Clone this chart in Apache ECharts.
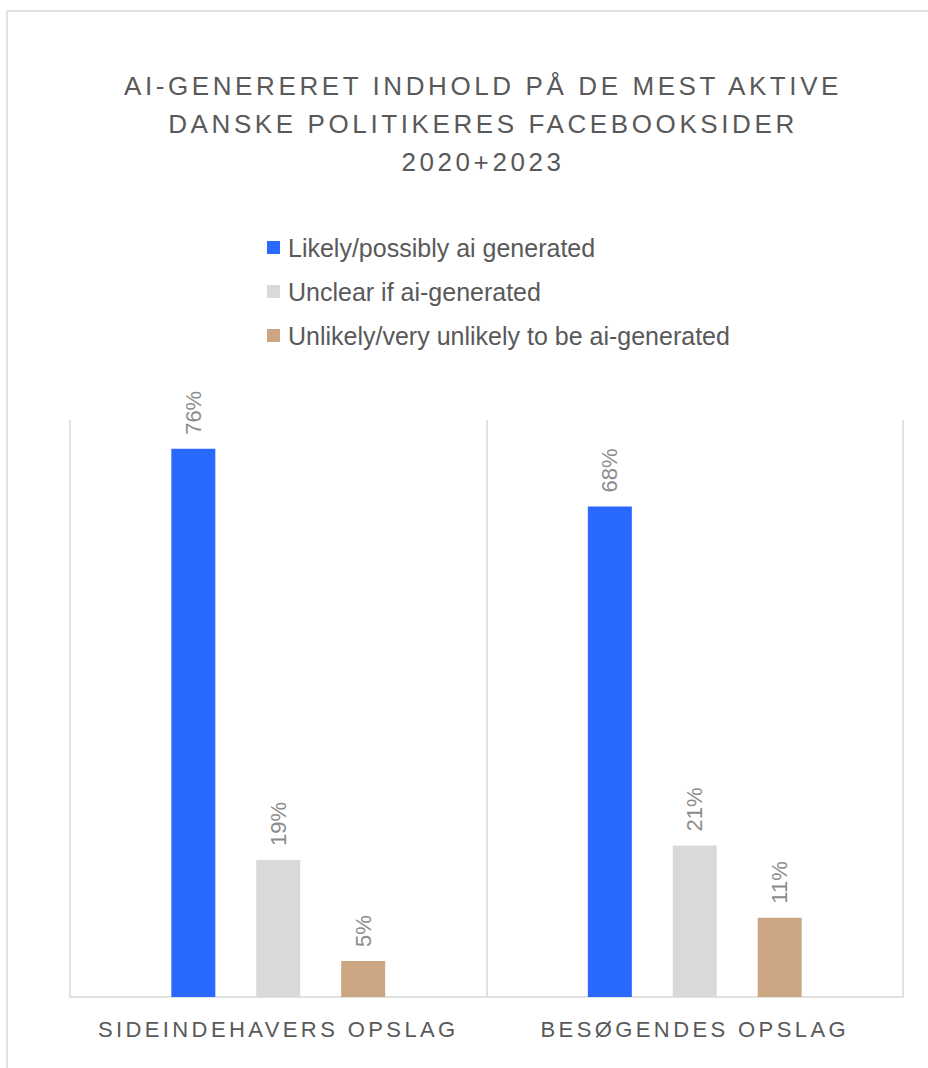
<!DOCTYPE html>
<html>
<head>
<meta charset="utf-8">
<script src="https://cdn.jsdelivr.net/npm/echarts@6/dist/echarts.min.js"></script>
<style>html,body{margin:0;padding:0;background:#fff;}#c{width:928px;height:1068px;}</style>
</head>
<body>
<div id="c"></div>
<script>
const titleText = 'AI-GENERERET INDHOLD PÅ DE MEST AKTIVE\nDANSKE POLITIKERES FACEBOOKSIDER\n2020+2023';
const categories = ['SIDEINDEHAVERS OPSLAG', 'BESØGENDES OPSLAG'];
const seriesNames = ['Likely/possibly ai generated', 'Unclear if ai-generated', 'Unlikely/very unlikely to be ai-generated'];
const likelyValues = [76, 68];
const unclearValues = [19, 21];
const unlikelyValues = [5, 11];
const colors = ['#2A69FF', '#D9D9D9', '#CCA683'];

const chart = echarts.init(document.getElementById('c'), null, { renderer: 'svg' });
const labelCfg = {
  show: true, position: 'top', rotate: 90, align: 'left', verticalAlign: 'middle',
  distance: 14, color: '#8C8C8C', fontSize: 22, fontFamily: 'Liberation Sans',
  formatter: p => p.value + '%'
};
const mk = (name, data, i) => ({
  name, type: 'bar', data, barWidth: 44, barGap: '93%',
  itemStyle: { color: colors[i] }, label: labelCfg
});
chart.setOption({
  animation: false,
  graphic: [{ type: 'rect', shape: { x: 7, y: 11, width: 1000, height: 1100 },
    style: { fill: 'none', stroke: '#D9D9D9', lineWidth: 1.5 }, silent: true }],
  title: {
    text: titleText, left: 483, top: 67, textAlign: 'center', padding: 0,
    textStyle: { color: '#595959', fontSize: 26, fontWeight: 'normal', lineHeight: 38, fontFamily: 'Liberation Sans' }
  },
  legend: {
    orient: 'vertical', left: 267, top: 235, padding: 0, itemGap: 19,
    itemWidth: 13, itemHeight: 13, icon: 'rect',
    textStyle: { color: '#595959', fontSize: 25, lineHeight: 22, fontFamily: 'Liberation Sans', padding: [0,0,0,3] },
    data: seriesNames
  },
  grid: { left: 70, right: 25, top: 420, bottom: 71, containLabel: false },
  xAxis: {
    type: 'category', data: categories,
    axisTick: { show: false },
    axisLine: { lineStyle: { color: '#D9D9D9', width: 1.5 } },
    splitLine: { show: true, lineStyle: { color: '#D9D9D9', width: 1.5 } },
    axisLabel: { color: '#595959', fontSize: 22, margin: 21, fontFamily: 'Liberation Sans' }
  },
  yAxis: { type: 'value', min: 0, max: 80, show: false, splitLine: { show: false } },
  series: [mk(seriesNames[0], likelyValues, 0), mk(seriesNames[1], unclearValues, 1), mk(seriesNames[2], unlikelyValues, 2)]
});

// letter spacing for the spaced uppercase texts (title lines and category labels)
const spaced = { };
titleText.split('\n').forEach(t => spaced[t] = '3.6px');
categories.forEach(t => spaced[t] = '3.4px');
function applySpacing() {
  document.querySelectorAll('#c svg text').forEach(el => {
    const t = el.textContent;
    if (spaced[t]) el.style.letterSpacing = spaced[t];
  });
}
applySpacing();
chart.on('finished', applySpacing);
</script>
</body>
</html>
